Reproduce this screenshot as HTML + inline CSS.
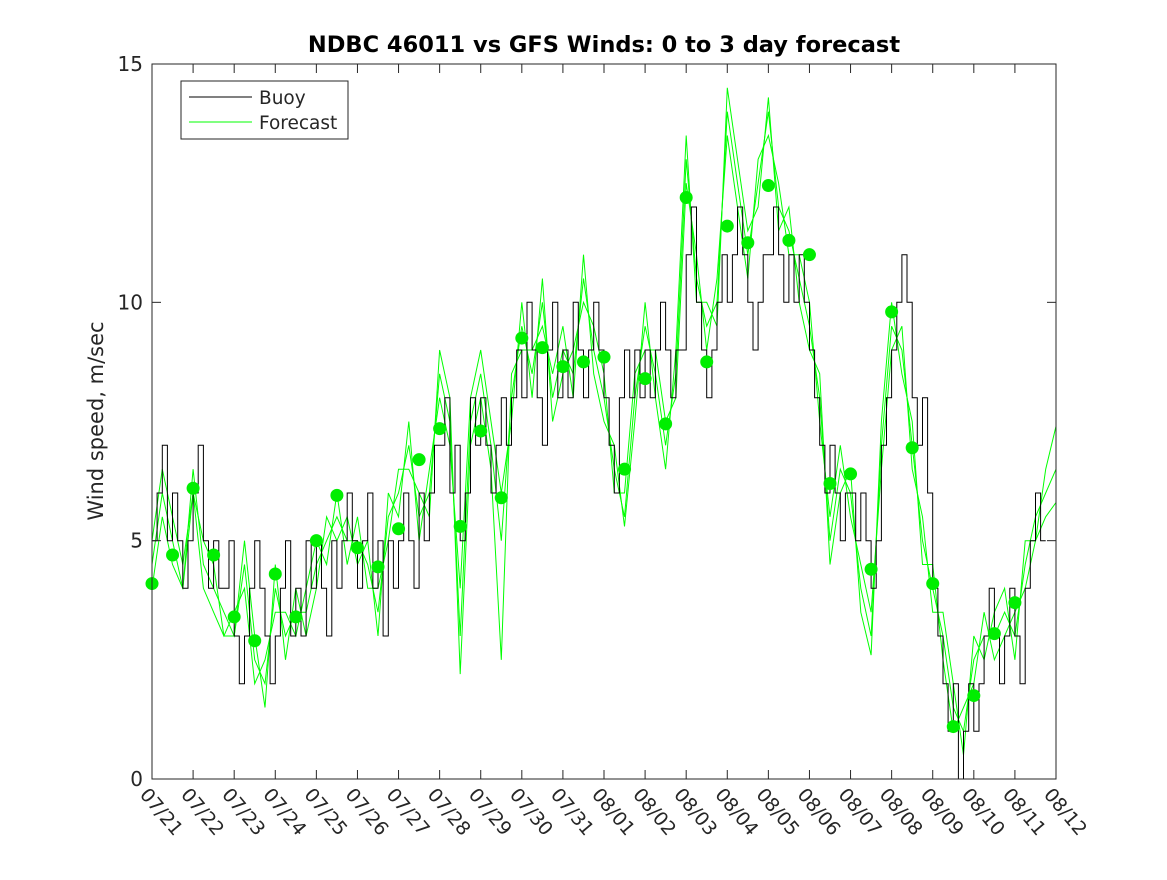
<!DOCTYPE html>
<html><head><meta charset="utf-8"><style>
body{margin:0;background:#fff;}
svg text{font-family:"DejaVu Sans","Liberation Sans",sans-serif;fill:#262626;}
</style></head><body>
<svg id="chart" width="1167" height="875" xmlns="http://www.w3.org/2000/svg">
<rect width="1167" height="875" fill="#fff"/>
<text x="604" y="52" text-anchor="middle" font-size="22.5" font-weight="bold" style="fill:#000">NDBC 46011 vs GFS Winds: 0 to 3 day forecast</text>
<text transform="translate(103,421) rotate(-90)" text-anchor="middle" font-size="21">Wind speed, m/sec</text>
<g id="plot"></g>
</svg>
<script>
const xTickLabels=["07/21","07/22","07/23","07/24","07/25","07/26","07/27","07/28","07/29","07/30","07/31","08/01","08/02","08/03","08/04","08/05","08/06","08/07","08/08","08/09","08/10","08/11","08/12"];
const yTicks=[0,5,10,15];
// buoy, 3-hourly from day 0
const buoy=[5,6,7,5,6,5,4,5, 6,7,5,4,5,4,4,5, 3,2,3,4,5,4,3,2, 3,4,5,3,4,3,5,4, 5,4,3,5,4,5,6,5, 4,5,6,4,5,3,5,4, 5,6,5,4,6,5,6,7, 7,8,6,7,5,6,8,7, 8,7,6,7,8,7,8,9, 8,10,9,8,7,9,10,8, 9,8,10,9,8,9,10,9, 8,7,6,8,9,8,9,8, 9,8,9,10,9,8,9,9, 11,12,10,9,8,9,10,11, 10,11,12,11,10,9,10,11, 11,12,11,10,11,10,11,10, 9,8,7,6,7,6,5,6, 6,5,6,5,4,5,7,8, 9,10,11,10,8,7,8,6, 4,3,2,1,2,0,1,2, 1,2,3,4,3,2,3,4, 3,2,4,5,6,5];
// forecast runs, 6-hourly from day 0
const fcA=[4.5,6.0,5.0,4.0, 6.5,4.5,4.0,3.5, 3.0,4.5,2.5,2.0, 4.0,3.0,3.5,3.5, 4.5,5.0,5.5,5.0, 5.0,4.5,3.5,5.5, 6.0,7.0,5.5,6.0, 8.5,7.5,3.0,7.5, 8.5,7.0,5.0,8.0, 9.5,8.5,10.0,8.0, 9.0,8.5,10.5,9.0, 8.0,6.5,5.5,8.0, 9.5,8.5,7.0,8.5, 13.0,10.5,9.5,10.0, 14.0,12.5,11.0,12.5, 14.0,12.0,11.5,10.5, 9.5,8.0,5.0,6.5, 6.0,4.0,3.0,7.0, 9.5,9.0,7.0,5.0, 4.0,3.0,1.5,1.0, 2.5,3.0,3.0,3.5, 3.0,4.5,5.5,6.0, 6.5];
const fcB=[5.0,6.5,5.5,4.5, 6.0,4.0,3.5,3.0, 3.5,4.0,2.0,2.5, 3.5,3.5,3.0,4.0, 5.0,4.5,6.0,4.5, 5.5,4.0,4.0,5.0, 6.5,6.5,6.0,5.5, 9.0,8.0,2.2,7.0, 8.0,6.5,2.5,8.5, 9.0,9.0,9.5,8.5, 9.5,8.0,11.0,8.5, 7.5,7.0,5.3,7.5, 10.0,8.0,6.5,9.0, 13.5,10.0,10.0,9.5, 14.5,13.0,11.5,12.0, 14.3,11.5,12.0,10.0, 9.0,8.5,4.5,6.0, 6.5,3.5,2.6,7.5, 10.0,8.5,7.5,4.5, 4.5,2.5,1.0,1.5, 2.0,3.5,2.5,3.0, 3.5,4.0,5.0,6.5, 7.4];
const fcC=[4.0,5.5,4.5,4.0, 6.0,5.0,4.5,3.0, 3.0,5.0,3.0,1.5, 4.5,2.5,4.0,3.0, 4.0,5.5,5.0,5.5, 4.5,5.0,3.0,6.0, 5.5,7.5,5.0,6.5, 8.0,7.0,4.0,8.0, 9.0,7.5,6.0,7.5, 10.0,8.0,10.5,7.5, 8.5,9.0,10.0,9.5, 8.5,6.0,6.0,8.5, 9.0,9.0,7.5,8.0, 12.5,11.0,9.0,10.5, 13.5,12.0,10.5,13.0, 13.5,12.5,11.0,11.0, 10.0,7.5,5.5,7.0, 5.5,4.5,3.5,6.5, 9.0,9.5,6.5,5.5, 3.5,3.5,2.0,0.5, 3.0,2.5,3.5,4.0, 2.5,5.0,5.0,5.5, 5.8];
const dotDays=[0,0.5,1,1.5,2,2.5,3,3.5,4,4.5,5,5.5,6,6.5,7,7.5,8,8.5,9,9.5,10,10.5,11,11.5,12,12.5,13,13.5,14,14.5,15,15.5,16,16.5,17,17.5,18,18.5,19,19.5,20,20.5,21];
const dotVals=[4.1,4.7,6.1,4.7,3.4,2.9,4.3,3.4,5.0,5.95,4.85,4.45,5.25,6.7,7.35,5.3,7.3,5.9,9.25,9.05,8.65,8.75,8.85,6.5,8.4,7.45,12.2,8.75,11.6,11.25,12.45,11.3,11.0,6.2,6.4,4.4,9.8,6.95,4.1,1.1,1.75,3.05,3.7];

const L=152,R=1056,T=64,B=779,days=22,ymax=15;
const X=d=>L+(R-L)*d/days, Y=v=>B-(B-T)*v/ymax;
const NS="http://www.w3.org/2000/svg";
const g=document.getElementById('plot');
function mk(t,a,p){const e=document.createElementNS(NS,t);for(const k in a)e.setAttribute(k,a[k]);(p||g).appendChild(e);return e;}
[fcA,fcB,fcC].forEach((s,i)=>{
 const pts=s.map((v,j)=>X(j*0.25).toFixed(1)+','+Y(v).toFixed(1)).join(' ');
 const e=mk('polyline',{points:pts,fill:'none',stroke:'#00ff00','stroke-width':1});
 
 
});
let bp=[];buoy.forEach((v,j)=>{bp.push(X(j/8).toFixed(1)+','+Y(v).toFixed(1));bp.push(X((j+1)/8).toFixed(1)+','+Y(v).toFixed(1));});
const bl=mk('polyline',{points:bp.join(' '),fill:'none',stroke:'#000','stroke-width':1});


dotDays.forEach((d,i)=>{
 const c=mk('circle',{cx:X(d),cy:Y(dotVals[i]),r:6.5,fill:'#00ee00'});
 
 
});
const box=mk('rect',{x:L,y:T,width:R-L,height:B-T,fill:'none',stroke:'#262626','stroke-width':1});


xTickLabels.forEach((lab,i)=>{
 const x=X(i);
 mk('line',{x1:x,y1:B,x2:x,y2:B-9,stroke:'#262626'});
 mk('line',{x1:x,y1:T,x2:x,y2:T+9,stroke:'#262626'});
 const t=mk('text',{transform:`translate(${x-13},${B+16}) rotate(50)`,'font-size':19});
 t.textContent=lab;
 
 
});
yTicks.forEach(v=>{
 const y=Y(v);
 mk('line',{x1:L,y1:y,x2:L+9,y2:y,stroke:'#262626'});
 mk('line',{x1:R,y1:y,x2:R-9,y2:y,stroke:'#262626'});
 const t=mk('text',{x:L-9,y:y+7,'text-anchor':'end','font-size':20});
 t.textContent=v;
 
 
});
const lg=mk('g',{});


mk('rect',{x:181,y:81,width:167,height:58,fill:'#fff',stroke:'#262626'},lg);
mk('line',{x1:189,y1:97,x2:252,y2:97,stroke:'#000'},lg);
mk('line',{x1:189,y1:122,x2:252,y2:122,stroke:'#00ff00'},lg);
const t1=mk('text',{x:259,y:104,'font-size':18.5},lg);t1.textContent='Buoy';


const t2=mk('text',{x:259,y:129,'font-size':18.5},lg);t2.textContent='Forecast';


</script>
</body></html>
